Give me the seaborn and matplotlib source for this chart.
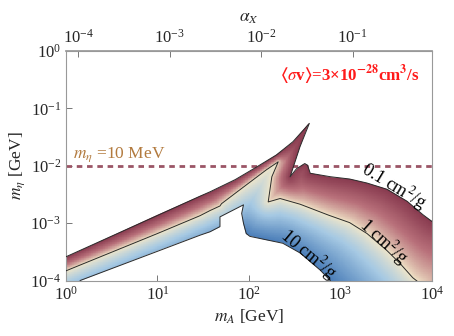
import numpy as np
import matplotlib
matplotlib.use("Agg")
import matplotlib.pyplot as plt
import seaborn as sns
from matplotlib.path import Path
from matplotlib.patches import Polygon
from matplotlib.colors import LinearSegmentedColormap, Normalize
from matplotlib.ticker import NullLocator

# ---- data (log10 of m_A [GeV] and m_eta [GeV]) ----
# upper boundary of the allowed region (band top, spike, 0.1 cm^2/g contour)
top_lx = [0.0, 1.0, 1.464, 1.574, 1.85, 2.084, 2.30, 2.48, 2.66, 2.557, 2.45,
          2.52, 2.58, 2.61, 2.64, 2.67, 2.89, 3.10, 3.29, 3.51, 3.73, 3.90, 4.0]
top_ly = [-3.585, -2.865, -2.53, -2.453, -2.24, -2.02, -1.81, -1.58, -1.26, -1.67, -2.19,
          -2.05, -1.99, -1.96, -1.99, -2.13, -2.19, -2.23, -2.30, -2.41, -2.62, -2.85, -2.97]

# lower boundary (band bottom, blue spike edge, 10 cm^2/g contour)
low_lx = [0.153, 1.0, 1.464, 1.574, 1.683, 1.683, 1.94, 1.92, 1.94, 1.97,
          2.01, 2.19, 2.37, 2.56, 2.78, 2.89]
low_ly = [-4.0, -3.49, -3.21, -3.15, -3.06, -2.89, -2.68, -2.83, -3.0, -3.18,
          -3.23, -3.29, -3.35, -3.52, -3.82, -4.0]

# 1 cm^2/g contour
mid_lx = [0.0, 1.0, 1.464, 1.574, 1.683, 1.70, 1.94, 2.19, 2.32, 2.25, 2.21,
          2.34, 2.56, 2.87, 3.10, 3.29, 3.51, 3.65, 3.79, 3.87]
mid_ly = [-3.83, -3.18, -2.87, -2.78, -2.70, -2.66, -2.37, -2.07, -1.93, -2.19, -2.63,
          -2.57, -2.67, -2.86, -2.99, -3.18, -3.48, -3.70, -3.95, -4.05]

# 10 cm^2/g reference curve used for the colour shading (continued outside the region)
ten_lx = [-0.3, 0.0, 1.574, 1.97, 2.01, 2.19, 2.37, 2.56, 2.78, 2.89, 3.1, 3.6]
ten_ly = [-4.69, -4.48, -3.41, -3.18, -3.23, -3.29, -3.35, -3.52, -3.82, -4.0, -4.35, -5.2]

x_ticks = [1e0, 1e1, 1e2, 1e3, 1e4]
y_ticks = [1e-4, 1e-3, 1e-2, 1e-1, 1e0]
alpha_ticks = [1e-4, 1e-3, 1e-2, 1e-1]
alpha_per_mA = 7.35e-5   # alpha_X = alpha_per_mA * m_A
m_eta_line = 1e-2

sns.set_theme(style="ticks")
plt.rcParams["font.family"] = ["Liberation Serif", "DejaVu Serif"]
plt.rcParams["mathtext.fontset"] = "stix"

fig = plt.figure(figsize=(4.54, 3.36), dpi=100)
ax = fig.add_axes([0.1454, 0.165, 0.806, 0.683])
ax.set_xscale("log")
ax.set_yscale("log")
ax.set_xlim(1e0, 1e4)
ax.set_ylim(1e-4, 1e0)

# pixel scale per decade, so distances look right on screen
sx = 0.806 * 454 / 4
sy = 0.683 * 336 / 4
scale = np.array([sx, sy])


def dist_to_line(P, lx, ly):
    L = np.column_stack([lx, ly]) * scale
    best = np.full(len(P), np.inf)
    for a, b in zip(L[:-1], L[1:]):
        d = b - a
        t = np.clip(((P - a) @ d) / (d @ d), 0, 1)
        proj = a + t[:, None] * d
        best = np.minimum(best, np.hypot(*(P - proj).T))
    return best


# colour field: -1 at 0.1 cm^2/g, 0 at 1 cm^2/g, +1 at 10 cm^2/g
ex = np.linspace(0, 4, 521)
ey = np.linspace(-4, 0, 331)
cx = 0.5 * (ex[1:] + ex[:-1])
cy = 0.5 * (ey[1:] + ey[:-1])
GX, GY = np.meshgrid(cx, cy)
pts = np.column_stack([GX.ravel(), GY.ravel()])
P = pts * scale

d0 = dist_to_line(P, top_lx, top_ly)
d1 = dist_to_line(P, mid_lx, mid_ly)
d2 = dist_to_line(P, ten_lx, ten_ly)
red_side = Path(np.vstack([[(-0.5, -4.17)], np.column_stack([mid_lx, mid_ly]),
                           [(4.5, -4.1), (4.5, 0.5), (-0.5, 0.5)]])).contains_points(pts)
F = np.where(red_side, -d1 / (d1 + d0 + 1e-9), d1 / (d1 + d2 + 1e-9)).reshape(GX.shape)
F = np.sign(F) * np.abs(F) ** 0.8

cmap = LinearSegmentedColormap.from_list(
    "thermo", [(0.0, "#883A4F"), (0.22, "#B8707A"), (0.5, "#F1E6C8"),
               (0.72, "#A6C9E3"), (1.0, "#4A7DB8")])

ax.axhline(m_eta_line, color="#9B5566", lw=2.0, ls=(0, (2.0, 1.7)), zorder=1)

mesh = ax.pcolormesh(10 ** ex, 10 ** ey, F, cmap=cmap, norm=Normalize(-1, 1),
                     shading="flat", zorder=2, rasterized=True)
region = np.vstack([[(0.0, -4.0)], np.column_stack([top_lx, top_ly]), [(4.0, -4.0)],
                    np.column_stack([low_lx, low_ly])[::-1]])
clip = Polygon(10 ** region, closed=True, transform=ax.transData, fill=False, lw=0)
ax.add_patch(clip)
mesh.set_clip_path(clip)

# contour / boundary lines
for lx, ly in [(top_lx, top_ly), (low_lx, low_ly), (mid_lx, mid_ly)]:
    sns.lineplot(x=10 ** np.array(lx), y=10 ** np.array(ly), sort=False, estimator=None,
                 color="#2a2a2a", lw=0.7, ax=ax, zorder=3)

lab_kw = dict(fontsize=13, ha="center", va="center", color="black", zorder=4,
              rotation_mode="anchor", clip_on=True)
ax.text(10 ** 3.59, 10 ** -2.36, r"0.1 cm$^2$/g", rotation=-31, **lab_kw)
ax.text(10 ** 3.47, 10 ** -3.32, r"1 cm$^2$/g", rotation=-42, **lab_kw)
ax.text(10 ** 2.65, 10 ** -3.55, r"10 cm$^2$/g", rotation=-40, **lab_kw)

ax.text(10 ** 0.08, 10 ** -1.8, r"$m_\eta$ =10 MeV", color="#B27A3E", fontsize=12.5,
        ha="left", va="center")
ax.text(0.776, 0.895,
        r"$\mathbf{\langle}$$\sigma$v$\mathbf{\rangle}$=3×10$^{\mathbf{-28}}$cm$^{\mathbf{3}}$/s",
        transform=ax.transAxes, color="#FF1A1A", fontsize=12.2, fontweight="bold",
        ha="center", va="center")

# axes styling
ax.set_xticks(x_ticks)
ax.set_yticks(y_ticks)
ax.xaxis.set_minor_locator(NullLocator())
ax.yaxis.set_minor_locator(NullLocator())
ax.tick_params(direction="in", length=4, width=0.7, color="#777777", labelsize=12,
               top=False, right=False)
for s in ax.spines.values():
    s.set_color("#999999")
    s.set_linewidth(0.8)
ax.set_xlabel(r"$m_A$ [GeV]", fontsize=12.5, labelpad=3)
ax.set_ylabel(r"$m_\eta$ [GeV]", fontsize=12.5, labelpad=2)

secax = ax.secondary_xaxis("top", functions=(lambda m: m * alpha_per_mA,
                                             lambda a: a / alpha_per_mA))
secax.set_xticks(alpha_ticks)
secax.xaxis.set_minor_locator(NullLocator())
secax.tick_params(direction="in", length=4, width=0.7, color="#777777", labelsize=12)
secax.spines["top"].set_color("#999999")
secax.set_xlabel(r"$\alpha_X$", fontsize=12.5, labelpad=5)

fig.savefig("out.png", dpi=100)
